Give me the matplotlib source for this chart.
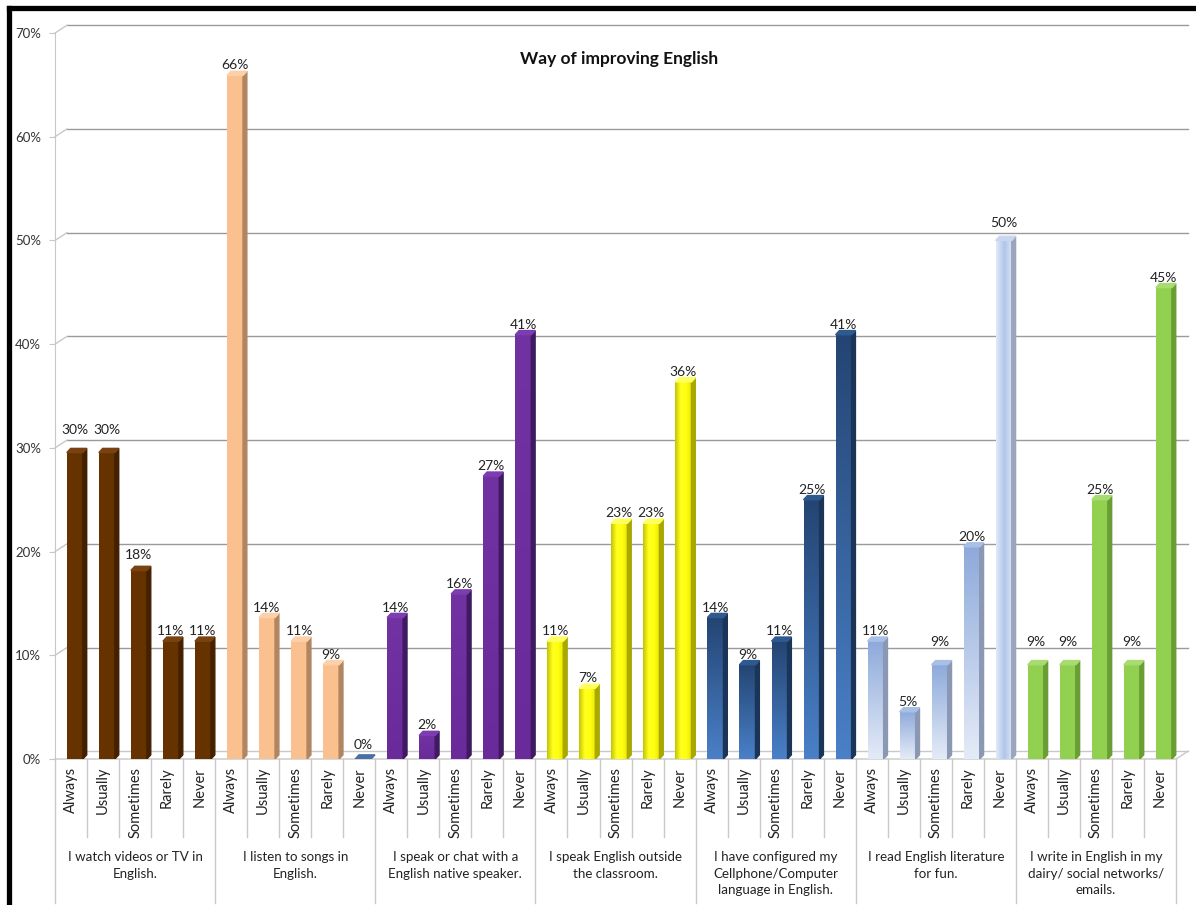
import numpy as np
import matplotlib
matplotlib.use("Agg")
import matplotlib.pyplot as plt
from matplotlib.patches import Polygon
from matplotlib.colors import to_rgb
from matplotlib.lines import Line2D

plt.rcParams['font.family'] = ['Lato', 'DejaVu Sans']

# data (bar heights, labels are the rounded values)
freq = ["Always", "Usually", "Sometimes", "Rarely", "Never"]
groups = ["I watch videos or TV in\nEnglish.",
          "I listen to songs in\nEnglish.",
          "I speak or chat with a\nEnglish native speaker.",
          "I speak English outside\nthe classroom.",
          "I have configured my\nCellphone/Computer\nlanguage in English.",
          "I read English literature\nfor fun.",
          "I write in English in my\ndairy/ social networks/\nemails."]
watch_tv = [29.55, 29.55, 18.18, 11.36, 11.36]
songs = [65.91, 13.64, 11.36, 9.09, 0]
native = [13.64, 2.27, 15.91, 27.27, 40.91]
outside = [11.36, 6.82, 22.73, 22.73, 36.36]
configured = [13.64, 9.09, 11.36, 25.0, 40.91]
literature = [11.36, 4.55, 9.09, 20.45, 50.0]
writing = [9.09, 9.09, 25.0, 9.09, 45.45]
all_values = [watch_tv, songs, native, outside, configured, literature, writing]

# fill stops (bottom->top, or left->right if horizontal), side colour, top face colour, horizontal
styles = [(["#663300"], "#432000", "#7a4210", False),
          (["#fac090"], "#b0865f", "#fcd0a8", False),
          (["#6a2a9a", "#7232a2"], "#3f1a60", "#7d3cb0", False),
          (["#c4c400", "#ffff20", "#ffff10", "#e8e800"], "#a8a800", "#ffff60", True),
          (["#4a80c8", "#244573"], "#1b3558", "#2f5a90", False),
          (["#e4ebf7", "#8eaadb"], "#8a98b4", "#a8bfe6", False),
          (["#92d050"], "#6a9e34", "#a8dc70", False)]
special = {(5, 4): (["#e2eaf6", "#b0c5ea", "#dfe8f5"], "#9aa6bc", "#c8d6ee", True)}

# extra lift of some data labels, in pixels
label_lift = {(0, 0): 13, (0, 1): 13, (0, 2): 5, (5, 2): 13, (5, 4): 7,
              (6, 0): 13, (6, 1): 13, (6, 3): 13}

PX = 10.371      # pixels per percent
SLOT = 32.03     # pixels per category


def py(p):
    return (759 - p) / PX


fig = plt.figure(figsize=(11.96, 9.05), dpi=100)
ax = fig.add_axes([55 / 1196, (905 - 759) / 905, 1133 / 1196, 726 / 905])
xmax = 1133 / SLOT

bw = 0.5
dx = 0.12
dy = 0.4
off_x = 0.375
off_y = 0.75
grid_c = "#9a9a9a"
light_c = "#c8c8c8"

# back wall gridlines
for v in range(10, 80, 10):
    ax.plot([off_x, xmax], [v + off_y, v + off_y], color=grid_c, lw=1, zorder=1, clip_on=False)
    ax.plot([0, off_x], [v, v + off_y], color=light_c, lw=1, zorder=1, clip_on=False)
ax.plot([off_x, xmax], [off_y, off_y], color=light_c, lw=1, zorder=1, clip_on=False)
ax.plot([0, 35, xmax], [0, 0, off_y], color=light_c, lw=1, zorder=1, clip_on=False)


def ramp(stops, n=64):
    cols = np.array([to_rgb(c) for c in stops])
    if len(cols) == 1:
        return np.repeat(cols, n, axis=0)
    t = np.linspace(0, len(cols) - 1, n)
    return np.array([np.interp(t, np.arange(len(cols)), cols[:, j]) for j in range(3)]).T


for g, vals in enumerate(all_values):
    for k, v in enumerate(vals):
        stops, side_c, face_c, horiz = special.get((g, k), styles[g])
        i = g * 5 + k
        xc = i + 0.62
        x0 = xc - bw / 2
        if v == 0:
            ax.add_patch(Polygon([(x0, 0), (x0 + bw, 0), (x0 + bw + dx, dy), (x0 + dx, dy)],
                                 closed=True, color="#4a6fa5", zorder=3))
            ax.text(xc, 14 / PX, "0%", ha="center", va="center", fontsize=10, color="#222222")
            continue
        img = ramp(stops)
        img = img[None, :, :] if horiz else img[:, None, :]
        ax.imshow(img, extent=[x0, x0 + bw, 0, v], aspect="auto", origin="lower",
                  interpolation="bilinear", zorder=3)
        ax.add_patch(Polygon([(x0 + bw, 0), (x0 + bw + dx, dy), (x0 + bw + dx, v + dy), (x0 + bw, v)],
                             closed=True, color=side_c, zorder=3))
        ax.add_patch(Polygon([(x0, v), (x0 + bw, v), (x0 + bw + dx, v + dy), (x0 + dx, v + dy)],
                             closed=True, color=face_c, zorder=3))
        lift = (10 + label_lift.get((g, k), 0)) / PX
        ax.text(xc, v + lift, f"{v:.0f}%", ha="center", va="center", fontsize=10,
                color="#222222", zorder=4)

ax.set_xlim(0, xmax)
ax.set_ylim(0, 70)

# y axis
for s in ["top", "right", "bottom"]:
    ax.spines[s].set_visible(False)
ax.spines["left"].set_color(light_c)
ax.set_yticks(range(0, 80, 10))
ax.set_yticklabels([f"{v}%" for v in range(0, 80, 10)], fontsize=9.5, color="#333333")
ax.tick_params(axis="y", length=4, color=light_c, pad=6)
ax.set_xticks([])

# category axis
for i in range(36):
    bottom = py(903) if i % 5 == 0 else py(837)
    ax.plot([i, i], [0, bottom], color=light_c, lw=1, clip_on=False)
for g, name in enumerate(groups):
    for k, f in enumerate(freq):
        ax.text(g * 5 + k + 0.5, py(767), f, rotation=90, ha="center", va="top",
                fontsize=10.5, color="#222222", clip_on=False)
    ax.text(g * 5 + 2.5, py(851), name, ha="center", va="top", fontsize=9.6,
            color="#222222", linespacing=1.45, clip_on=False)

fig.text(619 / 1196, 1 - 59 / 905, "Way of improving English", ha="center", va="center",
         fontsize=12.5, fontweight="bold", color="#111111")

# black frame
fig.add_artist(Line2D([8.5 / 1196, 1], [1 - 8.5 / 905, 1 - 8.5 / 905], color="black", lw=3.8))
fig.add_artist(Line2D([8.5 / 1196, 8.5 / 1196], [0, 1 - 8.5 / 905], color="black", lw=3.8))

fig.savefig("out.png", dpi=100)
